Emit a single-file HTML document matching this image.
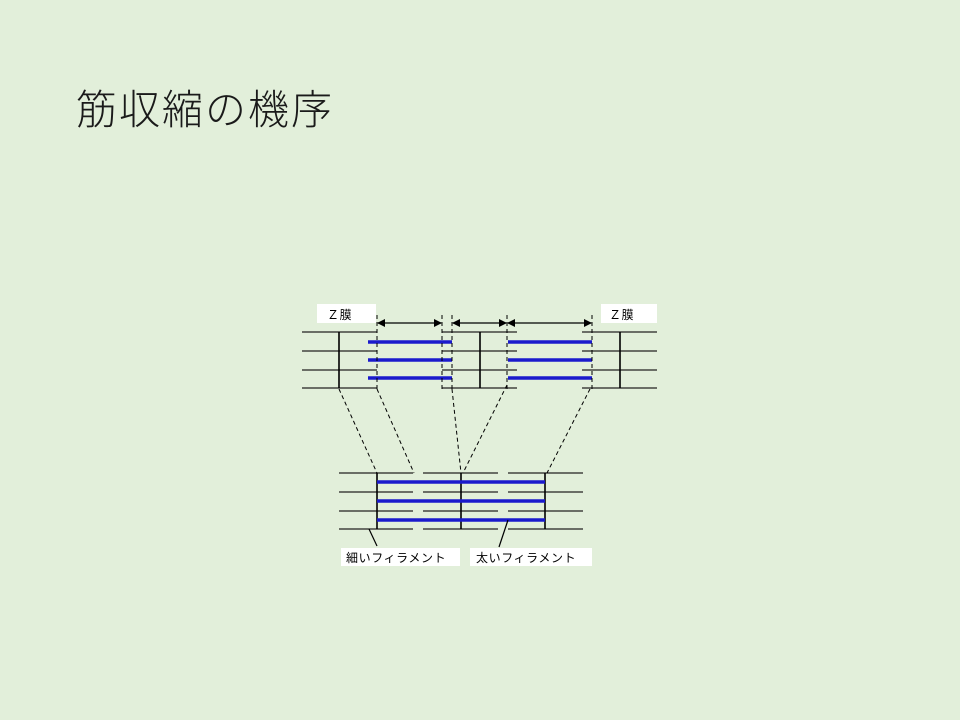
<!DOCTYPE html>
<html><head><meta charset="utf-8"><style>
html,body{margin:0;padding:0;}
body{width:960px;height:720px;background:#e2efda;position:relative;overflow:hidden;}
.t{position:absolute;left:76px;top:76px;font-family:"Liberation Sans","Noto Sans CJK JP",sans-serif;font-size:41px;font-weight:300;color:#1a1a1a;letter-spacing:2px;}
svg{position:absolute;left:0;top:0;}
text{font-family:"Liberation Sans","Noto Sans CJK JP",sans-serif;font-size:12px;fill:#000;letter-spacing:0.6px;}
</style></head><body>
<div class="t">筋収縮の機序</div>
<svg width="960" height="720">
<defs><marker id="a" markerWidth="8" markerHeight="8" refX="7" refY="4" orient="auto-start-reverse" markerUnits="userSpaceOnUse"><path d="M0,0 L8,4 L0,8z" fill="#000"/></marker></defs>
<g stroke="#222" stroke-width="1.3">
<line x1="302" y1="332" x2="377" y2="332"/><line x1="302" y1="351" x2="377" y2="351"/><line x1="302" y1="370" x2="377" y2="370"/><line x1="302" y1="388" x2="377" y2="388"/>
<line x1="442" y1="332" x2="517" y2="332"/><line x1="442" y1="351" x2="517" y2="351"/><line x1="442" y1="370" x2="517" y2="370"/><line x1="442" y1="388" x2="517" y2="388"/>
<line x1="582" y1="332" x2="657" y2="332"/><line x1="582" y1="351" x2="657" y2="351"/><line x1="582" y1="370" x2="657" y2="370"/><line x1="582" y1="388" x2="657" y2="388"/>
<line x1="339" y1="473" x2="413" y2="473"/><line x1="339" y1="492" x2="413" y2="492"/><line x1="339" y1="511" x2="413" y2="511"/><line x1="339" y1="529" x2="413" y2="529"/>
<line x1="423" y1="473" x2="498" y2="473"/><line x1="423" y1="492" x2="498" y2="492"/><line x1="423" y1="511" x2="498" y2="511"/><line x1="423" y1="529" x2="498" y2="529"/>
<line x1="508" y1="473" x2="583" y2="473"/><line x1="508" y1="492" x2="583" y2="492"/><line x1="508" y1="511" x2="583" y2="511"/><line x1="508" y1="529" x2="583" y2="529"/>
</g>
<g stroke="#000" stroke-width="1.6">
<line x1="339" y1="332" x2="339" y2="388"/><line x1="480" y1="332" x2="480" y2="388"/><line x1="620" y1="332" x2="620" y2="388"/>
<line x1="377" y1="473" x2="377" y2="529"/><line x1="461" y1="473" x2="461" y2="529"/><line x1="545" y1="473" x2="545" y2="529"/>
</g>
<g stroke="#1a1acc" stroke-width="3.5">
<line x1="368" y1="342" x2="452" y2="342"/><line x1="368" y1="360" x2="452" y2="360"/><line x1="368" y1="378" x2="452" y2="378"/>
<line x1="508" y1="342" x2="592" y2="342"/><line x1="508" y1="360" x2="592" y2="360"/><line x1="508" y1="378" x2="592" y2="378"/>
<line x1="377" y1="482" x2="545" y2="482"/><line x1="377" y1="501" x2="545" y2="501"/><line x1="377" y1="520" x2="545" y2="520"/>
</g>
<g stroke="#000" stroke-width="1" stroke-dasharray="4,3" fill="none">
<line x1="377" y1="315" x2="377" y2="389"/><line x1="442" y1="315" x2="442" y2="389"/><line x1="452" y1="315" x2="452" y2="389"/><line x1="507" y1="315" x2="507" y2="389"/><line x1="592" y1="315" x2="592" y2="389"/>
<line x1="339" y1="389" x2="377" y2="473"/><line x1="377" y1="389" x2="414" y2="473"/><line x1="452" y1="389" x2="461" y2="473"/><line x1="507" y1="385" x2="463" y2="473"/><line x1="590" y1="389" x2="547" y2="473"/>
</g>
<g stroke="#000" stroke-width="1.2">
<line x1="378" y1="323" x2="441" y2="323" marker-start="url(#a)" marker-end="url(#a)"/>
<line x1="453" y1="323" x2="506" y2="323" marker-start="url(#a)" marker-end="url(#a)"/>
<line x1="508" y1="323" x2="591" y2="323" marker-start="url(#a)" marker-end="url(#a)"/>
<line x1="369" y1="529" x2="377" y2="546"/><line x1="508" y1="520" x2="499" y2="547"/>
</g>
<rect x="317" y="304" width="59" height="19" fill="#fff"/><text x="327" y="319">Ｚ膜</text>
<rect x="601" y="304" width="56" height="19" fill="#fff"/><text x="609" y="319">Ｚ膜</text>
<rect x="341" y="548" width="119" height="18" fill="#fff"/><text x="346" y="562">細いフィラメント</text>
<rect x="470" y="548" width="122" height="18" fill="#fff"/><text x="476" y="562">太いフィラメント</text>
</svg>
</body></html>
